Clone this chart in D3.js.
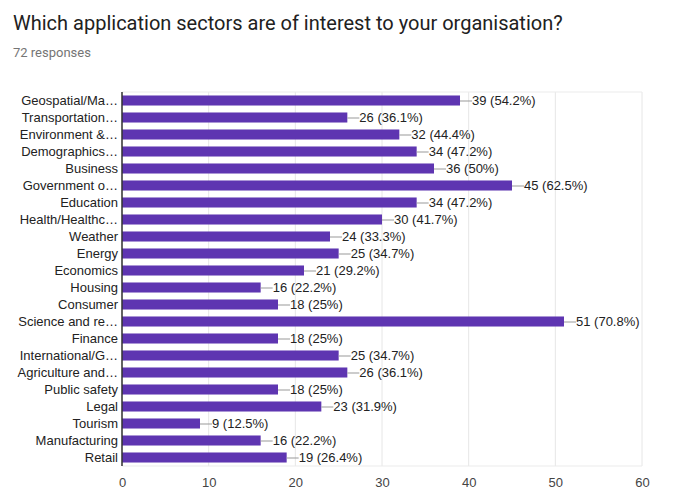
<!DOCTYPE html>
<html>
<head>
<meta charset="utf-8">
<script src="https://cdn.jsdelivr.net/npm/d3@7"></script>
<style>
  body { margin: 0; background: #fff; }
  svg text { font-family: "Liberation Sans", Arial, sans-serif; }
</style>
</head>
<body>
<div id="chart"></div>
<script>
// 카테고리 (truncated as in the picture)
const categories = [
  "Geospatial/Ma\u2026", "Transportation\u2026", "Environment &\u2026", "Demographics\u2026",
  "Business", "Government o\u2026", "Education", "Health/Healthc\u2026",
  "Weather", "Energy", "Economics", "Housing", "Consumer",
  "Science and re\u2026", "Finance", "International/G\u2026", "Agriculture and\u2026",
  "Public safety", "Legal", "Tourism", "Manufacturing", "Retail"
];
const counts = [39, 26, 32, 34, 36, 45, 34, 30, 24, 25, 21, 16, 18, 51, 18, 25, 26, 18, 23, 9, 16, 19];
const percents = ["54.2%", "36.1%", "44.4%", "47.2%", "50%", "62.5%", "47.2%", "41.7%",
  "33.3%", "34.7%", "29.2%", "22.2%", "25%", "70.8%", "25%", "34.7%", "36.1%",
  "25%", "31.9%", "12.5%", "22.2%", "26.4%"];
const xTicks = [0, 10, 20, 30, 40, 50, 60];

const width = 677, height = 502;
const margin = { top: 92, right: 35, bottom: 36, left: 122 };
const innerW = width - margin.left - margin.right;
const innerH = height - margin.top - margin.bottom;

const svg = d3.select("#chart").append("svg")
  .attr("width", width)
  .attr("height", height);

// 제목
svg.append("text")
  .attr("x", 13).attr("y", 30)
  .style("font-family", "Roboto, sans-serif")
  .style("font-size", "20px")
  .attr("fill", "#212121")
  .text("Which application sectors are of interest to your organisation?");

svg.append("text")
  .attr("x", 13).attr("y", 57)
  .style("font-family", "Roboto, sans-serif")
  .style("font-size", "13px")
  .attr("fill", "#757575")
  .text("72 responses");

const g = svg.append("g")
  .attr("transform", `translate(${margin.left},${margin.top})`);

const x = d3.scaleLinear().domain([0, 60]).range([0, innerW]);
const y = d3.scaleBand().domain(categories).range([0, innerH])
  .paddingInner(0.41).paddingOuter(0.205);

// grid
g.selectAll(".grid").data(xTicks).enter().append("line")
  .attr("x1", d => x(d)).attr("x2", d => x(d))
  .attr("y1", 0).attr("y2", innerH)
  .attr("stroke", "#e6e6e6");
g.append("line").attr("x1", 0).attr("x2", innerW).attr("y1", 0).attr("y2", 0).attr("stroke", "#ebebeb");
g.append("line").attr("x1", 0).attr("x2", innerW).attr("y1", innerH).attr("y2", innerH).attr("stroke", "#ebebeb");

// bars
g.selectAll(".bar").data(counts).enter().append("rect")
  .attr("x", 0)
  .attr("y", (d, i) => y(categories[i]))
  .attr("width", d => x(d))
  .attr("height", y.bandwidth())
  .attr("fill", "#5e35b1");

// leader lines + labels
g.selectAll(".lead").data(counts).enter().append("line")
  .attr("x1", d => x(d)).attr("x2", d => x(d) + 12)
  .attr("y1", (d, i) => y(categories[i]) + y.bandwidth() / 2 + 0.5)
  .attr("y2", (d, i) => y(categories[i]) + y.bandwidth() / 2 + 0.5)
  .attr("stroke", "#999");

g.selectAll(".val").data(counts).enter().append("text")
  .attr("x", d => x(d) + 12)
  .attr("y", (d, i) => y(categories[i]) + y.bandwidth() / 2)
  .attr("dy", "0.36em")
  .style("font-size", "13px")
  .attr("fill", "#222")
  .text((d, i) => `${d} (${percents[i]})`);

// y axis (category labels)
const yAxis = g.append("g").call(d3.axisLeft(y).tickSize(0).tickPadding(4));
yAxis.select(".domain").remove();
yAxis.selectAll("text").style("font-size", "13px").attr("fill", "#222");

// baseline
g.append("line").attr("x1", 0).attr("x2", 0).attr("y1", 0).attr("y2", innerH)
  .attr("stroke", "#333").attr("stroke-width", 1.5);

// x axis
const xAxis = g.append("g").attr("transform", `translate(0,${innerH})`)
  .call(d3.axisBottom(x).tickValues(xTicks).tickSize(0).tickPadding(12));
xAxis.select(".domain").remove();
xAxis.selectAll("text").style("font-size", "13px").attr("fill", "#444");
</script>
</body>
</html>
